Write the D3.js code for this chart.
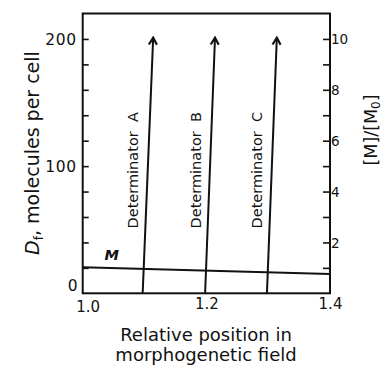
<!DOCTYPE html>
<html><head><meta charset="utf-8">
<script src="https://cdn.jsdelivr.net/npm/d3@7/dist/d3.min.js"></script>
<style>
html,body{margin:0;padding:0;background:#fff;}
svg text{font-family:"DejaVu Sans",sans-serif;fill:#111;}
</style></head>
<body><svg id="c" width="384" height="369"></svg>
<script>
// ---- data ----
const xTickValues = [1.0, 1.2, 1.4];
const xTickLabels = ["1.0", "1.2", "1.4"];
const leftMinorTicks = [20, 40, 60, 80, 100, 120, 140, 160, 180, 200];
const leftLabelTicks = [100, 200];
const rightTicks = [1, 2, 3, 4, 5, 6, 7, 8, 9, 10];
const rightLabelTicks = [2, 4, 6, 8, 10];
const determinators = ["A", "B", "C"];
const detStartX = [1.097, 1.198, 1.298];
const detStartY = [0, 0, 0];
const detEndX = [1.114, 1.214, 1.314];
const detEndY = [201, 201, 201];
const mX = [1.0, 1.4];
const mY = [20.4, 15.2];

// ---- layout ----
const svg = d3.select("#c");
const L = 82.7, R = 330, T = 13.5, B = 293.3;
const x = d3.scaleLinear().domain([1.0, 1.4]).range([L, R]);
const y = d3.scaleLinear().domain([0, 220]).range([B, T]);
const y2 = d3.scaleLinear().domain([0, 11]).range([B, T]);
const ink = "#111";

// arrow marker
svg.append("defs").append("marker")
  .attr("id", "arr").attr("viewBox", "-10 -6 12 12")
  .attr("refX", 0).attr("refY", 0)
  .attr("markerWidth", 12).attr("markerHeight", 12)
  .attr("markerUnits", "userSpaceOnUse").attr("orient", "auto")
  .append("path").attr("d", "M-7,-4 L0,0 L-7,4")
  .attr("fill", "none").attr("stroke", ink).attr("stroke-width", 2.2);

// left axis
const gL = svg.append("g").attr("transform", `translate(${L},0)`);
gL.call(d3.axisLeft(y).tickValues(leftMinorTicks).tickSizeInner(-6).tickSizeOuter(0)
  .tickPadding(6).tickFormat(d => leftLabelTicks.includes(d) ? d : ""));
gL.select(".domain").remove();
gL.selectAll(".tick line").attr("stroke", ink).attr("stroke-width", 1.6);
gL.selectAll(".tick text").attr("font-size", 15.5).attr("letter-spacing", 0.6)
  .attr("font-family", "DejaVu Sans").attr("fill", ink).attr("dy", "0.36em");
// zero label
svg.append("text").attr("x", L - 10).attr("y", y(0) - 2)
  .attr("text-anchor", "middle").attr("font-size", 15.5).text("0");

// right axis
const gR = svg.append("g").attr("transform", `translate(${R},0)`);
gR.call(d3.axisRight(y2).tickValues(rightTicks).tickSizeInner(-7).tickSizeOuter(0)
  .tickPadding(1).tickFormat(d => rightLabelTicks.includes(d) ? d : ""));
gR.select(".domain").remove();
gR.selectAll(".tick line").attr("stroke", ink).attr("stroke-width", 1.6);
gR.selectAll(".tick text").attr("font-size", 13.5)
  .attr("font-family", "DejaVu Sans").attr("fill", ink).attr("dy", "0.36em");

// bottom axis labels
const gB = svg.append("g").attr("transform", `translate(0,${B})`);
gB.call(d3.axisBottom(x).tickValues(xTickValues).tickSize(0).tickPadding(4)
  .tickFormat((d, i) => xTickLabels[i]));
gB.select(".domain").remove();
gB.selectAll(".tick text").attr("font-size", 15).attr("font-family", "DejaVu Sans")
  .attr("fill", ink).attr("dx", (d, i) => i === 0 ? 5 : 0).attr("dy", (d, i) => i === 0 ? "1.0em" : "0.8em");

// frame
svg.append("rect").attr("x", L).attr("y", T).attr("width", R - L).attr("height", B - T)
  .attr("fill", "none").attr("stroke", ink).attr("stroke-width", 2);

// M line
svg.append("path").datum(mX.map((v, i) => [v, mY[i]]))
  .attr("d", d3.line().x(d => x(d[0])).y(d => y(d[1])))
  .attr("fill", "none").attr("stroke", ink).attr("stroke-width", 2);
svg.append("text").attr("x", x(1.047)).attr("y", y(mY[0] + 6))
  .attr("text-anchor", "middle").attr("font-size", 14.5).attr("font-style", "italic")
  .attr("font-weight", "bold").attr("font-family", "Liberation Sans").text("M");

// determinator lines
determinators.forEach((name, i) => {
  svg.append("path").datum([[detStartX[i], detStartY[i]], [detEndX[i], detEndY[i]]])
    .attr("d", d3.line().x(d => x(d[0])).y(d => y(d[1])))
    .attr("fill", "none").attr("stroke", ink).attr("stroke-width", 2)
    .attr("marker-end", "url(#arr)");
  const ly = 51;
  const lx = x(detStartX[i] + (detEndX[i] - detStartX[i]) * ly / detEndY[i]) - 7;
  svg.append("text").attr("transform", `translate(${lx},${y(ly)}) rotate(-90)`)
    .attr("font-size", 14.5).attr("xml:space", "preserve").text("Determinator  " + name);
});

// axis titles
const yt = svg.append("text").attr("transform", `translate(39,${153}) rotate(-90)`)
  .attr("text-anchor", "middle").attr("font-size", 19);
yt.append("tspan").attr("font-style", "italic").text("D");
yt.append("tspan").attr("font-size", 12).attr("dy", 4).text("f");
yt.append("tspan").attr("dy", -4).text(", molecules per cell");

const rt = svg.append("text").attr("transform", `translate(377,${130}) rotate(-90)`)
  .attr("text-anchor", "middle").attr("font-size", 17.5);
rt.append("tspan").text("[M]/[M");
rt.append("tspan").attr("font-size", 12).attr("dy", 3).text("0");
rt.append("tspan").attr("dy", -3).text("]");

svg.append("text").attr("x", 206).attr("y", 341).attr("text-anchor", "middle")
  .attr("font-size", 18).text("Relative position in");
svg.append("text").attr("x", 206).attr("y", 361).attr("text-anchor", "middle")
  .attr("font-size", 18).text("morphogenetic field");
</script></body></html>
